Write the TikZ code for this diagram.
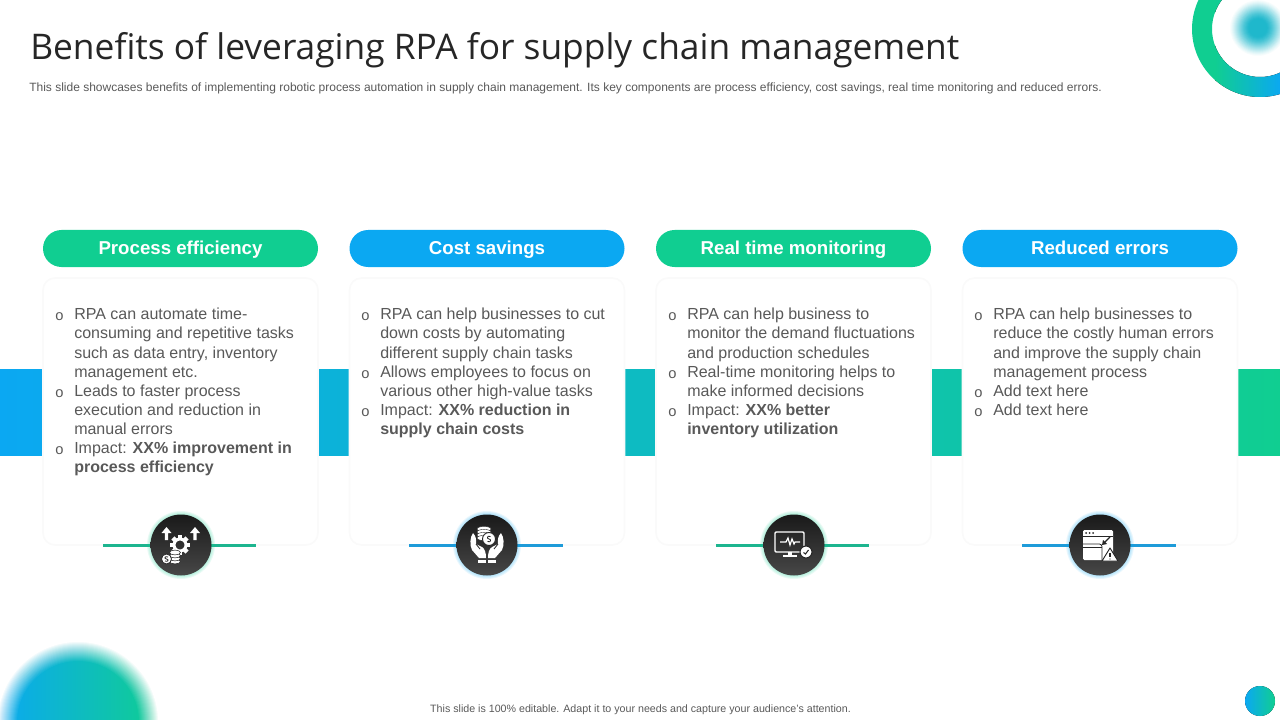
\documentclass[tikz,border=0pt]{standalone}
\usepackage{xcolor}
\usepackage{fontspec}
\setmainfont{Liberation Sans}
\newfontfamily\titlefont{Open Sans}
\usetikzlibrary{positioning,calc,shapes.geometric}
\definecolor{rpagreen}{HTML}{10CE91}
\definecolor{rpablue}{HTML}{0BA8F2}
\definecolor{rpateal}{HTML}{1FB8CC}
\definecolor{linegreen}{HTML}{1DB58F}
\definecolor{lineblue}{HTML}{1E9BD9}
\definecolor{bodygrey}{HTML}{595959}
\definecolor{titleink}{HTML}{262626}
\newcommand{\bul}{\llap{\raisebox{-0.6pt}{\fontsize{11}{11}\selectfont o}\hspace{8pt}}}
\tikzset{
    pillbox/.style={rounded corners=18.5*0.75pt, minimum width=275*0.75pt, minimum height=37*0.75pt, inner sep=0pt, text=white, text height=11pt, text depth=2.5pt, font=\fontsize{14}{14}\selectfont\bfseries},
    cardbox/.style={rounded corners=9pt, fill=white, draw=black!2, line width=1.2pt, minimum width=275*0.75pt, minimum height=267*0.75pt, inner sep=0pt},
    bodytext/.style={anchor=north west, inner sep=0pt, align=left, text=bodygrey, font=\fontsize{12}{14.35}\selectfont},
    linkline/.style={line width=2.2pt},
    iconink/.style={fill=white, draw=none},
    cutline/.style={draw=black!85, line width=0.6pt}
}
% icons, drawn round (0,0) in the pixels of the slide
\newcommand{\gearicon}{
    \foreach \side in {-14.5,14}{
        \fill[white] (\side-1.6,-5) -- (\side-1.6,-12) -- (\side-5,-12) -- (\side,-18) -- (\side+5,-12) -- (\side+1.6,-12) -- (\side+1.6,-5) -- cycle;
    }
    \foreach \ang in {0,45,...,315}{
        \fill[white, shift={(-1,0)}, rotate=\ang] (-2.2,-6) rectangle (2.2,-10);
    }
    \draw[white, line width=2.2pt] (-1,0) circle (6);
    \foreach \row in {16.5,13.5,10.5,7.5}{
        \fill[white, draw=black!85, line width=0.4pt] (-6,\row) ellipse (5.5 and 2.4);
    }
    \fill[white, draw=black!85, line width=0.6pt] (-14.5,14) circle (5);
    \draw[black!85, line width=0.6pt] (-13,12) .. controls (-16.5,10.5) and (-17,14) .. (-14.5,14) .. controls (-12,14) and (-12.5,17.5) .. (-16,16);
}
\newcommand{\handicon}{
    \foreach \mir in {-1,1}{
        \begin{scope}[xscale=\mir]
            \fill[iconink] (1,13) -- (8,13) -- (15,5) .. controls (17.5,0) and (17,-8) .. (14,-12) .. controls (11,-9) and (10.5,-5) .. (11,-1) -- (5,2) .. controls (2,4) and (1,8) .. (1,13) -- cycle;
            \draw[cutline] (11,-1) -- (7,4);
            \fill[iconink] (1,14.5) rectangle (9,18);
        \end{scope}
    }
    \foreach \row in {-16,-13,-10,-7}{
        \fill[white, draw=black!85, line width=0.3pt] (-3,\row) ellipse (7 and 2.6);
    }
    \fill[white, draw=black!85, line width=0.7pt] (2,-6) circle (6.5);
    \draw[black!85, line width=0.6pt] (3.5,-8.5) .. controls (0,-10) and (-0.5,-6) .. (2,-6) .. controls (4.5,-6) and (4,-2) .. (0.5,-3.5);
}
\newcommand{\screenicon}{
    \draw[white, line width=1pt, rounded corners=0.8pt] (-19,-13) rectangle (10,7);
    \draw[white, line width=0.9pt] (-14,-3) -- (-8,-3) -- (-6,-7) -- (-4,0) -- (-2,-6) -- (0,-1) -- (1,-3) -- (6,-3);
    \fill[iconink] (-6,7) rectangle (-2,10);
    \fill[iconink] (-11,10) rectangle (3,12);
    \fill[white, draw=black!85, line width=0.8pt] (12,7) circle (6);
    \draw[black!85, line width=0.8pt] (9.5,7.5) -- (11.5,9) -- (14.5,5);
}
\newcommand{\windowicon}{
    \fill[white, rounded corners=1pt] (-17,-15) rectangle (13,15);
    \foreach \dotx in {-14,-10.5,-7}{
        \fill[black!85] (\dotx,-12) circle (1);
    }
    \draw[cutline] (-17,-9) -- (13,-9);
    \draw[black!85, line width=0.9pt] (10,-8) -- (4,-2);
    \fill[black!85] (2,0) -- (7,-1) -- (3,-5) -- cycle;
    \draw[cutline, rounded corners=2pt] (-17,-1) -- (2,-1) -- (2,15);
    \draw[cutline] (-17,2.5) -- (1.5,2.5);
    \fill[white, draw=black!85, line width=0.7pt, line join=round] (10,3) -- (18,16) -- (2,16) -- cycle;
    \draw[black!85, line width=0.8pt] (10,8) -- (10,12);
    \fill[black!85] (10,14) circle (0.6);
}
\begin{document}
\begin{tikzpicture}[x=0.75pt, y=-0.75pt]
    \useasboundingbox (0,0) rectangle (1280,720);
    % corner decoration
    \begin{scope}
        \clip (1180,0) rectangle (1280,100);
        \begin{scope}[even odd rule]
            \clip (1260,29) circle (68) (1260,29) circle (48);
            \fill[rpagreen] (1180,0) rectangle (1216,100);
            \fill[left color=rpagreen, right color=rpablue] (1215,0) rectangle (1281,100);
        \end{scope}
        \foreach \rad/\amt in {28/3,27/7,26/12,25/17,24/23,23/29,22/35,21/41,20/47,19/53,18/59,17/65,16/71,15/77,14/82,13/87,12/91,11/95,10/98,9/100}{
            \fill[rpateal!\amt!white] (1258,28) circle (\rad);
        }
    \end{scope}
    % soft disc: white veils over a gradient
    \begin{scope}
        \clip (0,600) rectangle (200,720);
        \fill[left color=rpablue, right color=rpagreen] (78,722) circle (82);
        \foreach \step in {1,...,20}{
            \pgfmathsetmacro{\veil}{1/(21-\step)}
            \fill[white, even odd rule, opacity=\veil] (78,722) circle (60+\step) (78,722) circle (115);
        }
    \end{scope}
    \fill[left color=rpablue, right color=rpagreen] (1260,701) circle (15);
    % band behind the cards
    \fill[left color=rpablue, right color=rpagreen] (0,369) rectangle (1280,455);
    % heading
    \node[anchor=west, inner sep=0pt, text=titleink, font=\fontsize{26.5}{26.5}\titlefont] (slidetitle) at (30,50.5) {Benefits of leveraging RPA for supply chain management};
    \node[anchor=west, inner sep=0pt, text=bodygrey, font=\fontsize{9}{9}\selectfont] (slidenote) at (29,88.2) {This slide showcases benefits of implementing robotic process automation in supply chain management. Its key components are process efficiency, cost savings, real time monitoring and reduced errors.};
    \node[inner sep=0pt, text=bodygrey, font=\fontsize{8}{8}\selectfont] (slidefoot) at (640.5,709.5) {This slide is 100\% editable. Adapt it to your needs and capture your audience's attention.};
    % pills
    \node[pillbox, fill=rpagreen] (pillA) at (180.5,248.5) {Process efficiency};
    \node[pillbox, fill=rpablue] (pillB) at (487,248.5) {Cost savings};
    \node[pillbox, fill=rpagreen] (pillC) at (793.5,248.5) {Real time monitoring};
    \node[pillbox, fill=rpablue] (pillD) at (1100,248.5) {Reduced errors};
    % cards
    \node[cardbox] (cardA) at (180.5,411.5) {};
    \node[cardbox] (cardB) at (487,411.5) {};
    \node[cardbox] (cardC) at (793.5,411.5) {};
    \node[cardbox] (cardD) at (1100,411.5) {};
    % card texts
    \node[bodytext] (textA) at (74,308) {\bul RPA can automate time-\\consuming and repetitive tasks\\such as data entry, inventory\\management etc.\\\bul Leads to faster process\\execution and reduction in\\manual errors\\\bul Impact: \textbf{XX\% improvement in}\\\textbf{process efficiency}};
    \node[bodytext] (textB) at (380,308) {\bul RPA can help businesses to cut\\down costs by automating\\different supply chain tasks\\\bul Allows employees to focus on\\various other high-value tasks\\\bul Impact: \textbf{XX\% reduction in}\\\textbf{supply chain costs}};
    \node[bodytext] (textC) at (687,308) {\bul RPA can help business to\\monitor the demand fluctuations\\and production schedules\\\bul Real-time monitoring helps to\\make informed decisions\\\bul Impact: \textbf{XX\% better}\\\textbf{inventory utilization}};
    \node[bodytext] (textD) at (993,308) {\bul RPA can help businesses to\\reduce the costly human errors\\and improve the supply chain\\management process\\\bul Add text here\\\bul Add text here};
    % icon discs and their lines
    \coordinate (iconA) at (181,545);
    \coordinate (iconB) at (487,545);
    \coordinate (iconC) at (794,545);
    \coordinate (iconD) at (1100,545);
    \coordinate (lineAl) at (103,545.5);
    \coordinate (lineAr) at (256,545.5);
    \coordinate (lineBl) at (409,545.5);
    \coordinate (lineBr) at (563,545.5);
    \coordinate (lineCl) at (716,545.5);
    \coordinate (lineCr) at (869,545.5);
    \coordinate (lineDl) at (1022,545.5);
    \coordinate (lineDr) at (1176,545.5);
    \draw[linkline, linegreen] (lineAl) -- (lineAr);
    \draw[linkline, lineblue] (lineBl) -- (lineBr);
    \draw[linkline, linegreen] (lineCl) -- (lineCr);
    \draw[linkline, lineblue] (lineDl) -- (lineDr);
    \foreach \disc/\glow in {iconA/rpagreen,iconB/rpablue,iconC/rpagreen,iconD/rpablue}{
        \foreach \rad in {31,32,33,34}{
            \fill[\glow, opacity=0.09] (\disc) circle (\rad);
        }
        \shade[top color=black!90, bottom color=black!72] (\disc) circle (30.5);
    }
    \begin{scope}[shift={(iconA)}]\gearicon\end{scope}
    \begin{scope}[shift={(iconB)}]\handicon\end{scope}
    \begin{scope}[shift={(iconC)}]\screenicon\end{scope}
    \begin{scope}[shift={(iconD)}]\windowicon\end{scope}
\end{tikzpicture}
\end{document}
